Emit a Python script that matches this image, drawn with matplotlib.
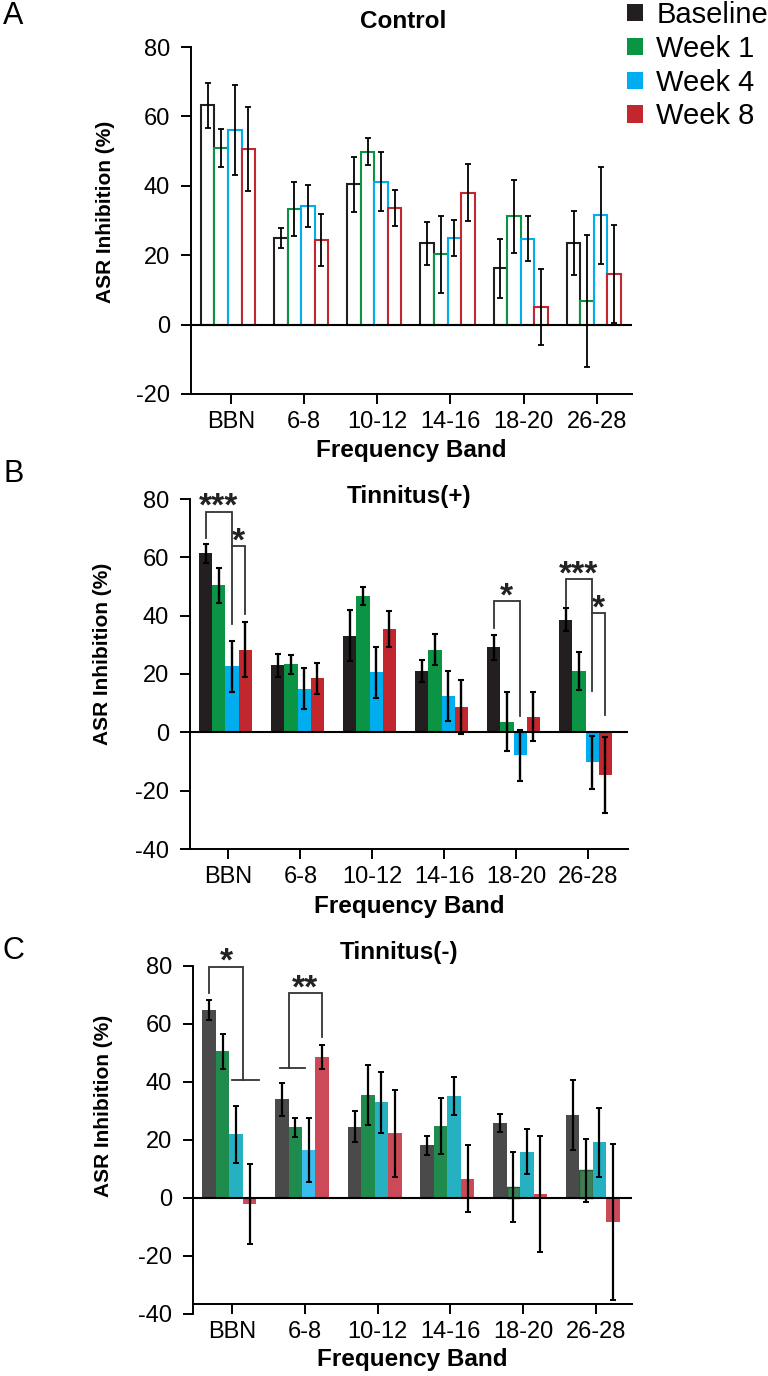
import matplotlib
matplotlib.use('Agg')
import matplotlib.pyplot as plt
from matplotlib.patches import Patch
import numpy as np

plt.rcParams['font.family'] = ['Liberation Sans', 'DejaVu Sans']
plt.rcParams['axes.unicode_minus'] = False

categories = ['BBN', '6-8', '10-12', '14-16', '18-20', '26-28']
series = ['Baseline', 'Week 1', 'Week 4', 'Week 8']

# A: Control
ctrl_base = [63.2, 25.0, 40.4, 23.4, 16.3, 23.5]
ctrl_w1 = [50.9, 33.2, 49.8, 20.3, 31.2, 6.8]
ctrl_w4 = [56.0, 34.1, 41.2, 25.0, 24.8, 31.5]
ctrl_w8 = [50.6, 24.5, 33.6, 38.0, 5.0, 14.6]
ctrl_base_err = [6.5, 2.8, 8.0, 6.2, 8.5, 9.3]
ctrl_w1_err = [5.4, 7.8, 3.9, 11.1, 10.5, 19.1]
ctrl_w4_err = [13.0, 6.0, 8.6, 5.1, 6.5, 14.0]
ctrl_w8_err = [12.1, 7.5, 5.3, 8.2, 11.0, 14.0]

# B: Tinnitus(+)
tplus_base = [61.4, 23.0, 33.1, 21.1, 29.1, 38.6]
tplus_w1 = [50.4, 23.3, 46.8, 28.3, 3.7, 21.1]
tplus_w4 = [22.6, 15.0, 20.6, 12.5, -7.9, -10.3]
tplus_w8 = [28.4, 18.5, 35.3, 8.8, 5.4, -14.5]
tplus_base_err = [3.3, 3.9, 8.8, 3.8, 4.2, 3.9]
tplus_w1_err = [6.0, 3.2, 3.2, 5.3, 10.0, 6.5]
tplus_w4_err = [8.8, 7.0, 8.8, 8.7, 8.8, 9.0]
tplus_w8_err = [9.4, 5.4, 6.2, 9.2, 8.3, 13.0]

# C: Tinnitus(-)
tminus_base = [64.9, 34.0, 24.5, 18.2, 25.9, 28.6]
tminus_w1 = [50.5, 24.3, 35.4, 24.9, 3.8, 9.5]
tminus_w4 = [21.9, 16.5, 32.9, 35.2, 15.9, 19.1]
tminus_w8 = [-2.3, 48.5, 22.2, 6.6, 1.2, -8.3]
tminus_base_err = [3.5, 5.6, 5.4, 3.3, 3.1, 12.0]
tminus_w1_err = [6.0, 3.4, 10.4, 9.7, 12.0, 10.8]
tminus_w4_err = [9.8, 11.0, 10.6, 6.5, 7.7, 12.0]
tminus_w8_err = [13.8, 4.2, 15.0, 11.6, 20.0, 27.0]

colors_b = ['#231f20', '#0a9444', '#00aeef', '#c1272d']
colors_c = ['#4a4a4a', '#1f8c4e', '#25b1c2', '#cc4a58']

W = 0.185
x = np.arange(len(categories))
offsets = [(i - 1.5) * W for i in range(4)]


def setup_axes(ax, ylo, xlim, label_x, label_y, xlab_y):
    ax.set_ylim(ylo, 80)
    ax.set_xlim(*xlim)
    ax.set_yticks(np.arange(ylo, 81, 20))
    ax.set_xticks(x + 0.04)
    ax.set_xticklabels(categories)
    ax.spines['top'].set_visible(False)
    ax.spines['right'].set_visible(False)
    ax.spines['left'].set_linewidth(1.4)
    ax.spines['bottom'].set_linewidth(1.4)
    ax.tick_params(axis='y', labelsize=17, length=7, width=1.4, pad=8)
    ax.tick_params(axis='x', labelsize=17, length=7, width=1.4, pad=5)
    ax.axhline(0, color='black', lw=1.5, zorder=4)
    ax.set_ylabel('ASR Inhibition (%)', fontsize=15, fontweight='bold')
    ax.yaxis.set_label_coords(label_x, label_y)
    ax.set_xlabel('Frequency Band', fontsize=17.5, fontweight='bold')
    ax.xaxis.set_label_coords(0.5, xlab_y)


def bracket(ax, x1, x2, ytop, y1, y2, label, lw=1.3):
    xs, ys = [], []
    if y1 is not None:
        xs.append(x1); ys.append(y1)
    xs += [x1, x2, x2]
    ys += [ytop, ytop, y2]
    ax.plot(xs, ys, color='#333333', lw=lw, solid_joinstyle='miter', zorder=5)
    ax.text((x1 + x2) / 2, ytop - 1.5, label, ha='center', va='baseline',
            fontsize=24, fontweight='bold', color='#222222')


fig = plt.figure(figsize=(7.68, 13.76), dpi=100)

# ---------- A ----------
axA = fig.add_axes([191 / 768, 1 - 394 / 1376, 441 / 768, 347 / 1376])
ctrl = [ctrl_base, ctrl_w1, ctrl_w4, ctrl_w8]
ctrl_err = [ctrl_base_err, ctrl_w1_err, ctrl_w4_err, ctrl_w8_err]
for i in range(4):
    axA.bar(x + offsets[i], ctrl[i], W, facecolor='white', edgecolor=colors_b[i],
            linewidth=1.5, zorder=2)
    axA.errorbar(x + offsets[i], ctrl[i], yerr=ctrl_err[i], fmt='none', ecolor='black',
                 elinewidth=1.3, capsize=2, capthick=1.3, zorder=3)
setup_axes(axA, -20, (-0.505, 5.52), -0.172, 0.525, -0.13)

# ---------- B ----------
axB = fig.add_axes([190 / 768, 1 - 849 / 1376, 438 / 768, 350 / 1376])
tplus = [tplus_base, tplus_w1, tplus_w4, tplus_w8]
tplus_err = [tplus_base_err, tplus_w1_err, tplus_w4_err, tplus_w8_err]
for i in range(4):
    axB.bar(x + offsets[i], tplus[i], W, color=colors_b[i], zorder=2)
    axB.errorbar(x + offsets[i], tplus[i], yerr=tplus_err[i], fmt='none', ecolor='black',
                 elinewidth=1.7, capsize=2, capthick=1.5, zorder=3)
setup_axes(axB, -40, (-0.493, 5.59), -0.179, 0.557, -0.13)
bracket(axB, x[0] + offsets[0], x[0] + offsets[2], 75.7, 66.7, 37.3, '***')
bracket(axB, x[0] + offsets[2], x[0] + offsets[3], 63.9, None, 40.7, '*')
bracket(axB, x[4] + offsets[0], x[4] + offsets[2], 44.9, 35.8, 5.7, '*')
bracket(axB, x[5] + offsets[0], x[5] + offsets[2], 52.5, 43.3, 14.3, '***')
bracket(axB, x[5] + offsets[2], x[5] + offsets[3], 40.8, None, 6.1, '*')

# ---------- C ----------
axC = fig.add_axes([193 / 768, 1 - 1313.7 / 1376, 439 / 768, 347.7 / 1376])
tminus = [tminus_base, tminus_w1, tminus_w4, tminus_w8]
tminus_err = [tminus_base_err, tminus_w1_err, tminus_w4_err, tminus_w8_err]
for i in range(4):
    bars = axC.bar(x + offsets[i], tminus[i], W, color=colors_c[i], zorder=2)
    if i == 2:
        bars[1].set_facecolor('#3bbcee')
    if i == 1:
        for k in (4, 5):
            bars[k].set_facecolor('#3d7f55')
            bars[k].set_edgecolor('#1f5a36')
            bars[k].set_linewidth(1.0)
    axC.errorbar(x + offsets[i], tminus[i], yerr=tminus_err[i], fmt='none', ecolor='black',
                 elinewidth=1.6, capsize=2, capthick=1.4, zorder=3)
setup_axes(axC, -40, (-0.50, 5.54), -0.182, 0.598, -0.10)
axC.spines['bottom'].set_position(('data', -36.7))
axC.spines['left'].set_bounds(-40, 80)
# BBN: baseline vs weeks 4 & 8
bx0 = x[0] + offsets[0]
bx1 = x[0] + (offsets[2] + offsets[3]) / 2
bracket(axC, bx0, bx1, 79.8, 70.6, 40.7, '*')
axC.plot([x[0] + offsets[2] - 0.05, x[0] + offsets[3] + 0.13], [40.7, 40.7],
         color='#333333', lw=1.3, zorder=5)
# 6-8: baseline & week 1 vs week 8
cx0 = x[1] + (offsets[0] + offsets[1]) / 2
axC.plot([x[1] + offsets[0] - 0.03, x[1] + offsets[1] + 0.13], [44.9, 44.9],
         color='#333333', lw=1.3, zorder=5)
bracket(axC, cx0, x[1] + offsets[3], 70.6, 44.9, 55.6, '**')

# titles and panel labels
fig.text(403 / 768, 1 - 22 / 1376, 'Control', ha='center', va='center',
         fontsize=17.5, fontweight='bold')
fig.text(409 / 768, 1 - 497 / 1376, 'Tinnitus(+)', ha='center', va='center',
         fontsize=17.5, fontweight='bold')
fig.text(399 / 768, 1 - 953 / 1376, 'Tinnitus(-)', ha='center', va='center',
         fontsize=17.5, fontweight='bold')
for lab, yy in [('A', 16), ('B', 474), ('C', 951)]:
    fig.text(3 / 768, 1 - yy / 1376, lab, ha='left', va='center', fontsize=22)

handles = [Patch(facecolor=c, edgecolor='none') for c in colors_b]
fig.legend(handles, series, loc='upper left', bbox_to_anchor=(627 / 768, 1 - 1 / 1376),
           frameon=False, fontsize=21, handlelength=0.55, handleheight=0.55,
           handletextpad=0.45, labelspacing=0.2, borderpad=0, borderaxespad=0)

fig.savefig('out.png', dpi=100)
